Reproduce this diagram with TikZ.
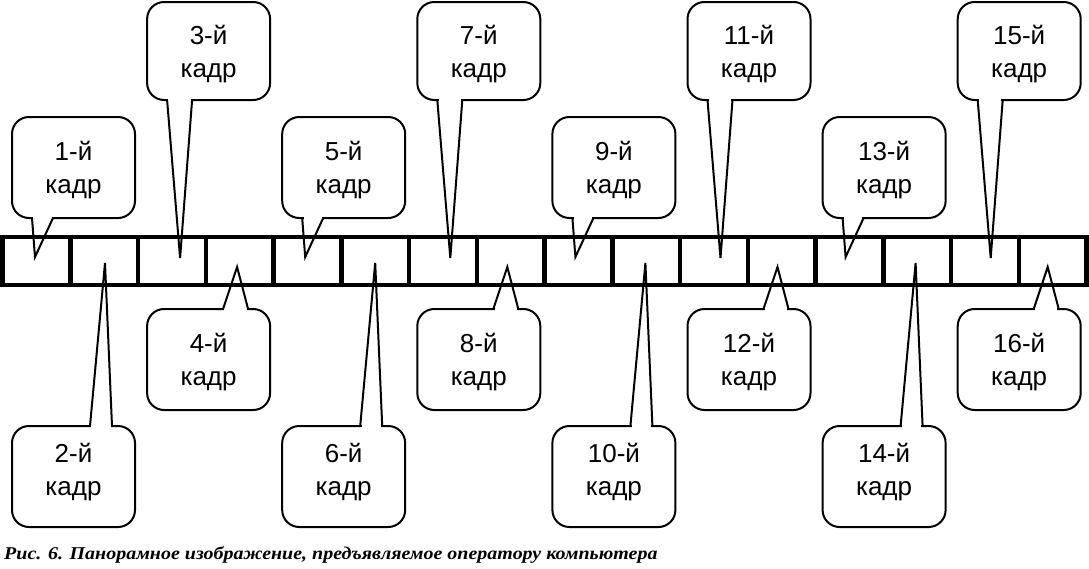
\documentclass[tikz,border=0pt]{standalone}
\usepackage{fontspec}
\setmainfont{Liberation Sans}
\newfontfamily\capfont[FakeStretch=1.11]{Liberation Serif}
\tikzset{
  cbox/.style={draw, line width=2pt, rounded corners=17pt, minimum width=123pt,
    inner sep=0pt},
  ctext/.style={inner sep=0pt, align=center, font=\fontsize{26}{33}\selectfont},
  ptr/.style={line width=2pt, line join=miter},
  strip/.style={line width=4.5pt},
}
\newcommand\mycallout[9]{%
  % #1 number, #2 left x, #3 top y, #4 bottom y, #5 base edge y,
  % #6 base left offset, #7 base right offset, #8 tip dx, #9 tip y
  \pgfmathsetmacro\cbh{#4-#3}%
  \node[cbox, minimum height=\cbh pt] (c#1) at ({#2+61.5},{(#3+#4)/2}) {};
  \node[ctext] (l#1) at ([yshift=-\tdy pt]c#1.center) {#1-й\\кадр};
  \coordinate (b#1l) at ({#2+#6},#5);
  \coordinate (b#1r) at ({#2+#7},#5);
  \coordinate (t#1) at ({#2+#8},#9);
  \fill[white] ({#2+#6+1.3},{#5-1.6}) rectangle ({#2+#7-1.3},{#5+1.6});
  \draw[ptr] (b#1l) -- (t#1) -- (b#1r);
}
\begin{document}
\begin{tikzpicture}[x=1pt,y=-1pt]
\useasboundingbox (0,0) rectangle (1089,568);
\foreach \k in {0,...,7}{
  \pgfmathsetmacro\L{12+135.1*\k}
  \pgfmathtruncatemacro\odd{2*\k+1}
  \pgfmathtruncatemacro\even{2*\k+2}
  \ifodd\k
    \def\tdy{3}
    \mycallout{\odd}{\L}{2}{100}{100}{20}{45}{33}{258}
    \mycallout{\even}{\L}{309}{410}{309}{76}{101}{90}{267}
  \else
    \def\tdy{3}
    \mycallout{\odd}{\L}{117}{218}{218}{20}{41}{23}{257}
    \def\tdy{-4}
    \mycallout{\even}{\L}{426}{527}{426}{78}{100}{93}{263}
  \fi
}
\draw[strip] (2.5,237) rectangle (1086.5,285);
\foreach \i in {1,...,15}{
  \draw[strip] ({2.5+67.75*\i},237) -- ({2.5+67.75*\i},285);
}
\node[anchor=base west, inner sep=0pt, font=\capfont\bfseries\itshape\fontsize{18}{19}\selectfont] (cap) at (4,559)
  {Рис. 6. Панорамное изображение, предъявляемое оператору компьютера};
\end{tikzpicture}
\end{document}
